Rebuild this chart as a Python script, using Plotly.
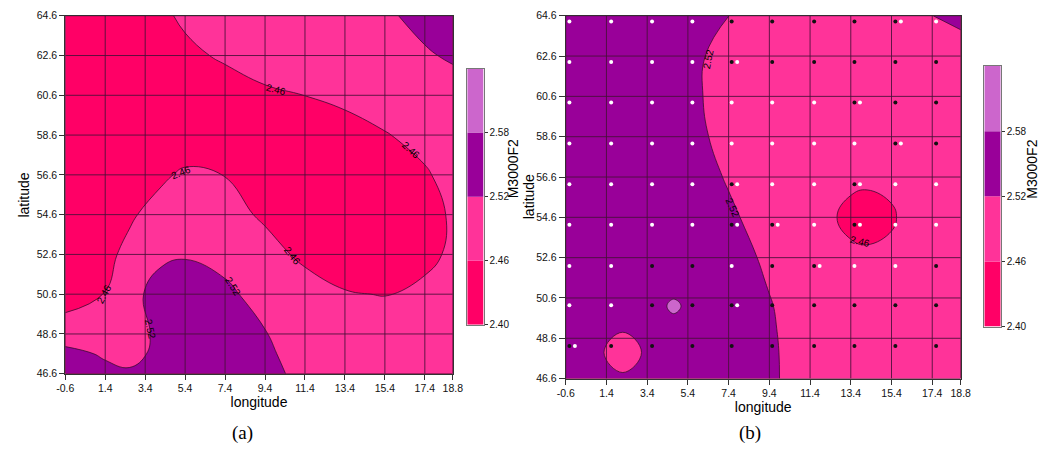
import plotly.graph_objects as go

# ---------------- data ----------------
x_ticks = [-0.6, 1.4, 3.4, 5.4, 7.4, 9.4, 11.4, 13.4, 15.4, 17.4, 18.8]
y_ticks = [46.6, 48.6, 50.6, 52.6, 54.6, 56.6, 58.6, 60.6, 62.6, 64.6]
levels = [2.40, 2.46, 2.52, 2.58, 2.64]
level_labels = ["2.40", "2.46", "2.52", "2.58"]

# panel (a): M3000F2 values read on a lon/lat grid
lon_a = [-0.6, 1.4, 2.6, 4.2, 5.4, 7.4, 9.4, 11.4, 13.4, 15.4, 17.4, 18.8]
lat_a = [46.6, 47.6, 48.6, 50.6, 52.6, 54.6, 56.6, 58.6, 60.6, 62.6, 64.6]
z_a = [
    [2.555, 2.5296, 2.5279, 2.5375, 2.565, 2.565, 2.5435, 2.4978, 2.49, 2.50, 2.50, 2.50],
    [2.5313, 2.5155, 2.5025, 2.5348, 2.565, 2.565, 2.5335, 2.4877, 2.49, 2.50, 2.50, 2.50],
    [2.5003, 2.492, 2.495, 2.533, 2.565, 2.565, 2.5235, 2.4775, 2.49, 2.50, 2.50, 2.50],
    [2.425, 2.4614, 2.5025, 2.5413, 2.562, 2.5345, 2.493, 2.4873, 2.4655, 2.457, 2.4773, 2.497],
    [2.415, 2.4458, 2.4743, 2.51, 2.514, 2.4975, 2.4823, 2.4472, 2.4168, 2.415, 2.4408, 2.4725],
    [2.415, 2.4268, 2.4517, 2.4836, 2.49, 2.482, 2.4509, 2.415, 2.415, 2.415, 2.435, 2.4685],
    [2.415, 2.415, 2.4218, 2.4498, 2.47, 2.459, 2.4228, 2.415, 2.415, 2.415, 2.4522, 2.4843],
    [2.415, 2.415, 2.415, 2.418, 2.418, 2.418, 2.415, 2.416, 2.4302, 2.4556, 2.4833, 2.505],
    [2.415, 2.415, 2.415, 2.415, 2.415, 2.4255, 2.448, 2.4605, 2.4775, 2.499, 2.49, 2.4865],
    [2.415, 2.415, 2.415, 2.4225, 2.4443, 2.47, 2.4935, 2.508, 2.51, 2.48, 2.5118, 2.5297],
    [2.415, 2.415, 2.4255, 2.447, 2.472, 2.51, 2.515, 2.515, 2.49, 2.5083, 2.5425, 2.565],
]

# panel (b)
lon_b = [-0.6, 1.0, 2.2, 3.4, 4.7, 5.9, 7.4, 9.4, 11.4, 13.4, 14.2, 15.4, 17.4, 18.8]
lat_b = [46.6, 47.9, 49.1, 50.2, 51.4, 52.6, 54.6, 56.6, 58.6, 60.6, 62.6, 64.6]
z_b = [
    [2.555, 2.545, 2.526, 2.545, 2.560, 2.565, 2.565, 2.533, 2.481, 2.475, 2.475, 2.475, 2.475, 2.475],
    [2.550, 2.526, 2.500, 2.526, 2.555, 2.565, 2.565, 2.532, 2.481, 2.475, 2.475, 2.475, 2.475, 2.475],
    [2.560, 2.555, 2.524, 2.550, 2.561, 2.565, 2.565, 2.529, 2.479, 2.475, 2.475, 2.475, 2.475, 2.475],
    [2.565, 2.565, 2.560, 2.551, 2.590, 2.557, 2.565, 2.525, 2.475, 2.475, 2.475, 2.475, 2.475, 2.475],
    [2.565, 2.565, 2.565, 2.565, 2.555, 2.565, 2.565, 2.515, 2.480, 2.480, 2.480, 2.480, 2.480, 2.480],
    [2.565, 2.565, 2.565, 2.565, 2.565, 2.565, 2.555, 2.505, 2.490, 2.476, 2.476, 2.472, 2.490, 2.490],
    [2.565, 2.565, 2.565, 2.565, 2.565, 2.565, 2.534, 2.484, 2.497, 2.441, 2.426, 2.4538, 2.504, 2.510],
    [2.565, 2.565, 2.565, 2.565, 2.565, 2.550, 2.5125, 2.470, 2.500, 2.476, 2.476, 2.472, 2.490, 2.490],
    [2.565, 2.565, 2.565, 2.565, 2.563, 2.533, 2.4955, 2.470, 2.480, 2.480, 2.480, 2.480, 2.480, 2.480],
    [2.565, 2.565, 2.565, 2.565, 2.556, 2.526, 2.4885, 2.470, 2.475, 2.475, 2.475, 2.475, 2.475, 2.475],
    [2.565, 2.565, 2.565, 2.565, 2.5588, 2.5288, 2.4913, 2.470, 2.470, 2.470, 2.470, 2.475, 2.485, 2.492],
    [2.565, 2.565, 2.565, 2.565, 2.565, 2.558, 2.5205, 2.4705, 2.470, 2.470, 2.470, 2.475, 2.5195, 2.535],
]

# stations in panel (b)
black_lon = [7.55, 9.54, 11.6, 13.58, 15.59,
             7.55, 9.54, 11.6, 13.58, 15.59, 17.59,
             13.58, 15.59, 17.59,
             15.59, 17.59,
             7.55, 13.58,
             7.55, 9.54, 13.58,
             3.64, 5.62, 9.54, 11.6, 17.59,
             3.64, 5.62, 7.55, 9.54, 11.6, 13.58, 15.59, 17.59,
             -0.42, 1.63, 3.64, 5.62, 7.55, 9.54, 11.6, 13.58, 15.59, 17.59]
black_lat = [64.32] * 5 + [62.31] * 6 + [60.3] * 3 + [58.26] * 2 + [56.24] * 2 + \
            [54.23] * 3 + [52.18] * 5 + [50.24] * 8 + [48.22] * 10
white_lon = [-0.42, 1.63, 3.64, 5.62, 15.86, 17.59,
             -0.42, 1.63, 3.64, 5.62, 7.82,
             -0.42, 1.63, 3.64, 5.62, 7.55, 9.54, 11.6, 13.85,
             -0.42, 1.63, 3.64, 5.62, 7.55, 9.54, 11.6, 13.58, 15.86,
             -0.42, 1.63, 3.64, 5.62, 7.82, 9.54, 11.6, 13.85, 15.59, 17.59,
             -0.42, 1.63, 3.64, 5.62, 7.82, 9.81, 11.6, 13.85, 15.59, 17.59,
             -0.42, 1.63, 7.55, 11.87, 13.58, 15.59,
             -0.42, 1.63, 7.82,
             -0.15]
white_lat = [64.32] * 6 + [62.31] * 5 + [60.3] * 8 + [58.26] * 9 + [56.24] * 10 + \
            [54.23] * 10 + [52.18] * 6 + [50.24] * 3 + [48.22] * 1

# contour line labels: (panel, text, lon, lat, angle)
line_labels = [
    ("a", "2.46", 9.94, 60.88, 14),
    ("a", "2.46", 16.73, 57.83, 42),
    ("a", "2.46", 5.18, 56.72, -22),
    ("a", "2.46", 10.75, 52.52, 52),
    ("a", "2.46", 1.32, 50.6, -62),
    ("a", "2.52", 3.63, 48.85, 78),
    ("a", "2.52", 7.8, 50.98, 58),
    ("b", "2.52", 6.38, 62.45, -78),
    ("b", "2.52", 7.6, 55.1, 66),
    ("b", "2.46", 13.85, 53.38, 14),
]

# ---------------- style ----------------
RED, PINK, PURPLE, LIGHT = "#FF0066", "#FF3399", "#990099", "#CC66CC"
band_colors = [RED, PINK, PURPLE, LIGHT]
cscale = [[0, RED], [0.375, RED], [0.375, PINK], [0.625, PINK],
          [0.625, PURPLE], [0.875, PURPLE], [0.875, LIGHT], [1, LIGHT]]
FONT = "Liberation Sans, Arial, sans-serif"
SERIF = "Liberation Serif, Times New Roman, serif"
GRID = "rgba(70,15,55,0.85)"

W, H = 1049, 455


def px_x(a, b):
    return [a / W, b / W]


def px_y(top, bottom):
    return [1 - bottom / H, 1 - top / H]


dom = {
    "a": (px_x(57.3, 452.0), px_y(10.0, 377.7)),
    "b": (px_x(567.0, 969.3), px_y(10.0, 382.7)),
    "ca": (px_x(466.7, 483.3), px_y(64.3, 327.3)),
    "cb": (px_x(993.3, 1010.0), px_y(61.7, 329.3)),
}

fig = go.Figure()

for lon, lat, z, xa, ya in [(lon_a, lat_a, z_a, "x", "y"),
                            (lon_b, lat_b, z_b, "x2", "y2")]:
    fig.add_trace(go.Contour(
        x=lon, y=lat, z=z,
        contours=dict(start=levels[0], end=levels[3], size=levels[1] - levels[0],
                      coloring="fill", showlines=True),
        line=dict(color="#3a0d2e", width=0.8, smoothing=1.25),
        colorscale=cscale, showscale=False, hoverinfo="skip",
        xaxis=xa, yaxis=ya))

fig.add_trace(go.Scatter(x=black_lon, y=black_lat, mode="markers",
                         marker=dict(size=4, color="#111111"),
                         xaxis="x2", yaxis="y2", hoverinfo="skip"))
fig.add_trace(go.Scatter(x=white_lon, y=white_lat, mode="markers",
                         marker=dict(size=4, color="#FFFFFF"),
                         xaxis="x2", yaxis="y2", hoverinfo="skip"))

# colour bars drawn as stacked bars over the level ranges
band_base = levels[:-1]
band_height = [levels[i + 1] - levels[i] for i in range(len(levels) - 1)]
for xa, ya in [("x3", "y3"), ("x4", "y4")]:
    fig.add_trace(go.Bar(x=[0] * 4, y=band_height, base=band_base, width=1,
                         marker=dict(color=band_colors, line=dict(width=0)),
                         xaxis=xa, yaxis=ya, hoverinfo="skip"))

tickfont = dict(family=FONT, size=10.5, color="#111111")
titlefont = dict(family=FONT, size=14, color="#000000")


def map_x(domain, anchor):
    return dict(domain=domain, anchor=anchor, range=[x_ticks[0], x_ticks[-1]],
                tickvals=x_ticks, ticktext=[f"{v:.1f}" for v in x_ticks],
                showgrid=False, zeroline=False, showline=True, mirror=True,
                linecolor="#333333", linewidth=1, ticks="outside", ticklen=5,
                tickcolor="#333333", tickfont=tickfont,
                title=dict(text="longitude", font=titlefont, standoff=2))


def map_y(domain, anchor, ticklen):
    return dict(domain=domain, anchor=anchor, range=[y_ticks[0], y_ticks[-1]],
                tickvals=y_ticks, ticktext=[f"{v:.1f}" for v in y_ticks],
                showgrid=False, zeroline=False, showline=True, mirror=True,
                linecolor="#333333", linewidth=1, ticks="outside", ticklen=ticklen,
                tickcolor="#333333", tickfont=tickfont)


def cb_x(domain, anchor):
    return dict(domain=domain, anchor=anchor, range=[-0.5, 0.5], showgrid=False,
                zeroline=False, showticklabels=False, ticks="", showline=True,
                mirror=True, linecolor="#777777", linewidth=1, fixedrange=True)


def cb_y(domain, anchor):
    return dict(domain=domain, anchor=anchor, range=[levels[0], levels[-1]],
                side="right", tickvals=levels[:-1], ticktext=level_labels,
                showgrid=False, zeroline=False, showline=True, mirror=True,
                linecolor="#777777", linewidth=1, ticks="outside", ticklen=3,
                tickcolor="#333333", tickfont=dict(family=FONT, size=10, color="#111111"))


fig.update_layout(
    width=W, height=H, autosize=False,
    margin=dict(l=0, r=0, t=0, b=0),
    paper_bgcolor="white", plot_bgcolor="white",
    showlegend=False, barmode="overlay",
    xaxis=map_x(dom["a"][0], "y"), yaxis=map_y(dom["a"][1], "x", 5),
    xaxis2=map_x(dom["b"][0], "y2"), yaxis2=map_y(dom["b"][1], "x2", 6),
    xaxis3=cb_x(dom["ca"][0], "y3"), yaxis3=cb_y(dom["ca"][1], "x3"),
    xaxis4=cb_x(dom["cb"][0], "y4"), yaxis4=cb_y(dom["cb"][1], "x4"),
)

# grid lines on top of the filled contours
shapes = []
for xr, yr in [("x", "y"), ("x2", "y2")]:
    for v in x_ticks:
        shapes.append(dict(type="line", xref=xr, yref=yr, x0=v, x1=v,
                           y0=y_ticks[0], y1=y_ticks[-1], layer="above",
                           line=dict(color=GRID, width=1)))
    for v in y_ticks:
        shapes.append(dict(type="line", xref=xr, yref=yr, y0=v, y1=v,
                           x0=x_ticks[0], x1=x_ticks[-1], layer="above",
                           line=dict(color=GRID, width=1)))
fig.update_layout(shapes=shapes)

ann = []
for panel, txt, lx, ly, ang in line_labels:
    xr, yr = ("x", "y") if panel == "a" else ("x2", "y2")
    ann.append(dict(text=txt, x=lx, y=ly, xref=xr, yref=yr, showarrow=False,
                    textangle=ang, font=dict(family=FONT, size=10, color="#000000")))

# axis titles (latitude), colour-bar titles and panel captions
for txt, cx, cy, ang, font in [("latitude", 15, 194, -90, titlefont),
                               ("latitude", 529, 196, -90, titlefont),
                               ("M3000F2", 513, 167, -90, titlefont),
                               ("M3000F2", 1041, 168, -90, titlefont),
                               ("(a)", 238, 439, 0, dict(family=SERIF, size=19, color="#000000")),
                               ("(b)", 755, 439, 0, dict(family=SERIF, size=19, color="#000000"))]:
    ann.append(dict(text=txt, x=cx / W, y=1 - cy / H, xref="paper", yref="paper",
                    xanchor="center", yanchor="middle", showarrow=False,
                    textangle=ang, font=font))
fig.update_layout(annotations=ann)

fig.write_html("out.html")
